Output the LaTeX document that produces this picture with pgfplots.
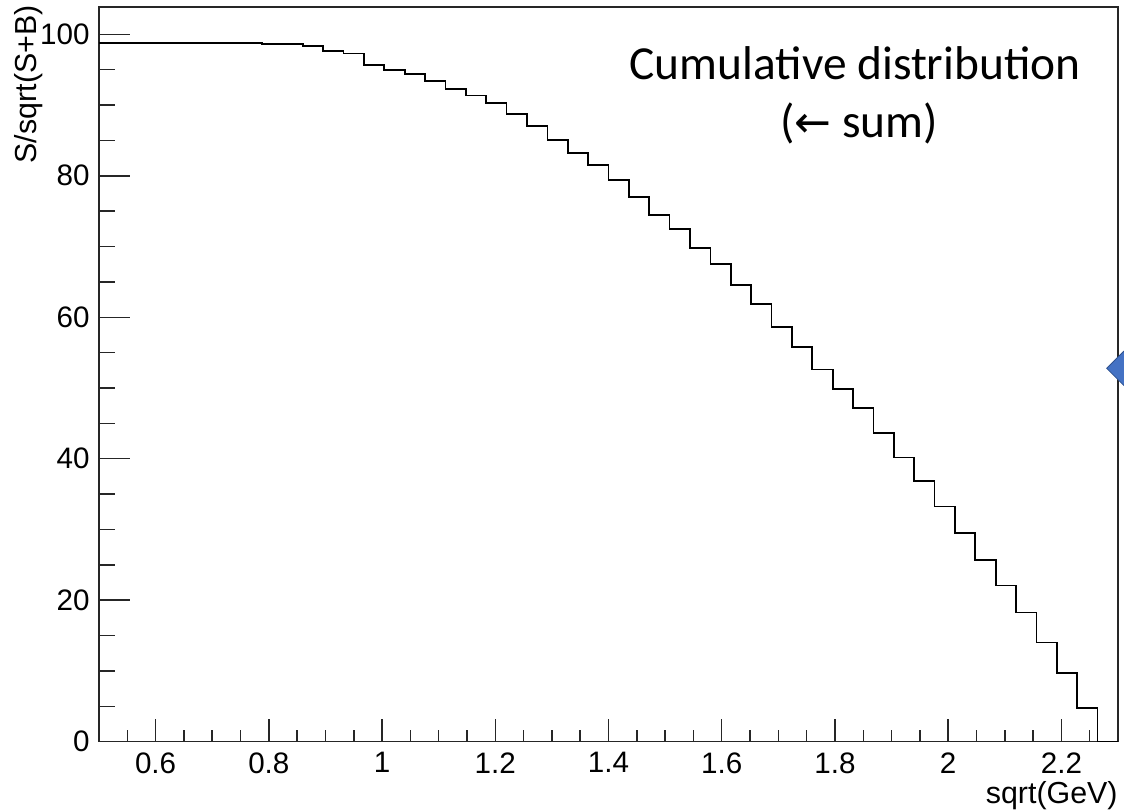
\documentclass[border=0pt]{standalone}
\usepackage{fontspec}
\setmainfont{Liberation Sans}
\newfontfamily\calibri{Carlito}
\newfontfamily\dejavu{DejaVu Sans}
\usepackage{pgfplots}
\usepackage{pgfplotstable}
\pgfplotsset{compat=1.18}

\pgfplotstableread{
x y
0.500 98.81
0.536 98.81
0.572 98.81
0.608 98.81
0.644 98.81
0.680 98.81
0.716 98.81
0.752 98.81
0.788 98.63
0.824 98.63
0.860 98.35
0.896 97.64
0.932 97.29
0.968 95.70
1.004 94.95
1.040 94.35
1.076 93.40
1.112 92.27
1.148 91.35
1.184 90.25
1.220 88.69
1.256 87.08
1.292 85.06
1.328 83.25
1.364 81.48
1.400 79.40
1.436 76.96
1.472 74.46
1.508 72.43
1.544 69.75
1.580 67.50
1.616 64.56
1.652 61.87
1.688 58.67
1.724 55.75
1.760 52.62
1.796 49.83
1.832 47.13
1.868 43.60
1.904 40.18
1.940 36.85
1.976 33.25
2.012 29.54
2.048 25.69
2.084 22.08
2.120 18.26
2.156 14.02
2.192 9.67
2.228 4.76
2.264 0
2.300 0
}\histdata

\definecolor{diamfill}{HTML}{4472C4}
\definecolor{diamedge}{HTML}{2F528F}

\begin{document}
\begin{tikzpicture}
\pgfplotsset{
  common/.style={
    width=509.5pt, height=367.35pt, scale only axis,
    xmin=0.5, xmax=2.3, ymin=0, ymax=103.86,
    at={(0pt,0pt)}, anchor=south west,
    axis line style={line width=0.75pt, black!85},
    tick style={line width=0.75pt, black!85},
    tick align=inside, tick pos=left,
    /pgf/number format/assume math mode=true,
    tick label style={font=\fontsize{14.8}{17}\selectfont, text=black},
    label style={font=\fontsize{15.2}{18}\selectfont},
  }
}
\begin{axis}[common,
  xtick={0.6,0.8,1,1.2,1.4,1.6,1.8,2,2.2},
  minor xtick={0.55,0.65,0.7,0.75,0.85,0.9,0.95,1.05,1.1,1.15,1.25,1.3,1.35,1.45,1.5,1.55,1.65,1.7,1.75,1.85,1.9,1.95,2.05,2.1,2.15,2.25},
  ytick=\empty,
  major tick length=11.35pt, minor tick length=5.65pt,
  xticklabel style={anchor=north, inner sep=0pt, yshift=-5.15pt},
  xlabel={sqrt(GeV)},
  xlabel style={at={(rel axis cs:1,0)}, anchor=north east, inner sep=0pt, yshift=-19.5pt},
]
\end{axis}
\begin{axis}[common,
  xtick=\empty,
  ytick={0,20,40,60,80,100},
  minor ytick={5,10,15,25,30,35,45,50,55,65,70,75,85,90,95},
  major tick length=15.5pt, minor tick length=8pt,
  yticklabel style={anchor=east, inner sep=0pt, xshift=-4.5pt},
  ylabel={S/sqrt(S+B)},
  ylabel style={at={([xshift=-28pt,yshift=1pt]rel axis cs:0,1)}, anchor=south east, inner sep=0pt},
]
\addplot[const plot, black, line width=0.85pt] table[x=x,y=y] {\histdata};
\node[font=\calibri\fontsize{23.7}{28}\selectfont, anchor=base, inner sep=0pt] at (rel axis cs:0.742,0.9007) {Cumulative distribution};
\node[font=\calibri\fontsize{23.7}{28}\selectfont, anchor=base, inner sep=0pt] at (rel axis cs:0.746,0.8217) {({\dejavu\fontsize{22}{24}\selectfont ←} sum)};
\end{axis}
\filldraw[fill=diamfill, draw=diamedge, line width=0.4pt] (503.85pt,186.7pt) -- (512.35pt,195.2pt) -- (520.85pt,186.7pt) -- (512.35pt,178.2pt) -- cycle;
\pgfresetboundingbox
\useasboundingbox (-49.5pt,-35.15pt) rectangle (512.5pt,370.85pt);
\end{tikzpicture}
\end{document}
